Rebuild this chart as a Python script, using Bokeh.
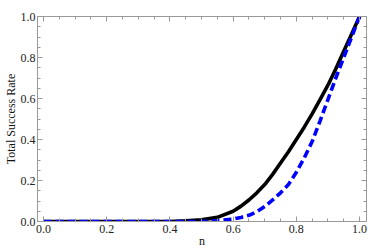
from bokeh.plotting import figure
from bokeh.models import Range1d, FixedTicker, PrintfTickFormatter, LinearAxis
from bokeh.embed import file_html
from bokeh.resources import INLINE

# data
n_black = [0.0, 0.1, 0.2, 0.3, 0.4, 0.45, 0.5, 0.55, 0.6, 0.625, 0.65, 0.675, 0.7, 0.725, 0.75,
           0.775, 0.8, 0.825, 0.85, 0.875, 0.9, 0.925, 0.95, 0.975, 1.0]
rate_black = [0.0, 0.0, 0.0, 0.0, 0.0, 0.003, 0.008, 0.02, 0.05, 0.075, 0.105, 0.14, 0.18, 0.23, 0.285,
              0.34, 0.40, 0.46, 0.525, 0.595, 0.665, 0.745, 0.83, 0.915, 1.0]
n_blue = [0.0, 0.1, 0.2, 0.3, 0.4, 0.5, 0.55, 0.6, 0.625, 0.65, 0.675, 0.7, 0.725, 0.75, 0.775,
          0.8, 0.825, 0.85, 0.875, 0.9, 0.925, 0.95, 0.975, 1.0]
rate_blue = [0.0, 0.0, 0.0, 0.0, 0.0, 0.0, 0.004, 0.012, 0.02, 0.03, 0.048, 0.073, 0.105, 0.14, 0.18,
             0.24, 0.31, 0.39, 0.49, 0.595, 0.70, 0.80, 0.90, 1.0]
major_ticks = [0.0, 0.2, 0.4, 0.6, 0.8, 1.0]
minor_ticks = [i * 0.05 for i in range(21)]

FONT = "Liberation Serif"
FRAME = "#999999"

p = figure(width=382, height=250, output_backend="svg", toolbar_location=None,
           x_range=Range1d(-0.019, 1.022), y_range=Range1d(0, 1),
           min_border_left=33, min_border_right=16, min_border_top=16, min_border_bottom=29)
p.grid.visible = False
p.outline_line_color = FRAME
p.background_fill_color = "white"

p.line(n_black, rate_black, line_color="black", line_width=3.6)
p.line(n_blue, rate_blue, line_color="#0000ff", line_width=3.6, line_dash="8 4")

ticker = FixedTicker(ticks=major_ticks, minor_ticks=minor_ticks)


def style(ax, labels=True):
    ax.ticker = ticker
    ax.formatter = PrintfTickFormatter(format="%.1f")
    ax.axis_line_color = FRAME
    ax.major_tick_line_color = FRAME
    ax.minor_tick_line_color = FRAME
    ax.major_tick_in = 5
    ax.major_tick_out = 0
    ax.minor_tick_in = 3
    ax.minor_tick_out = 0
    ax.major_label_text_font = FONT
    ax.major_label_text_font_size = "12px"
    ax.major_label_text_color = "#222222"
    ax.major_label_standoff = 2
    ax.axis_label_text_font = FONT
    ax.axis_label_text_font_size = "12px"
    ax.axis_label_text_font_style = "normal"
    ax.axis_label_text_color = "#111111"
    ax.axis_label_standoff = 0
    if not labels:
        ax.major_label_overrides = {t: "" for t in major_ticks}
        ax.major_label_standoff = 0


style(p.xaxis[0])
style(p.yaxis[0])
p.xaxis[0].axis_label = "n"
p.xaxis[0].major_label_standoff = 3
p.xaxis[0].axis_label_standoff = -2
p.yaxis[0].axis_label = "Total Success Rate"

top = LinearAxis()
right = LinearAxis()
style(top, labels=False)
style(right, labels=False)
p.add_layout(top, "above")
p.add_layout(right, "right")

open("out.html", "w").write(file_html(p, INLINE))
